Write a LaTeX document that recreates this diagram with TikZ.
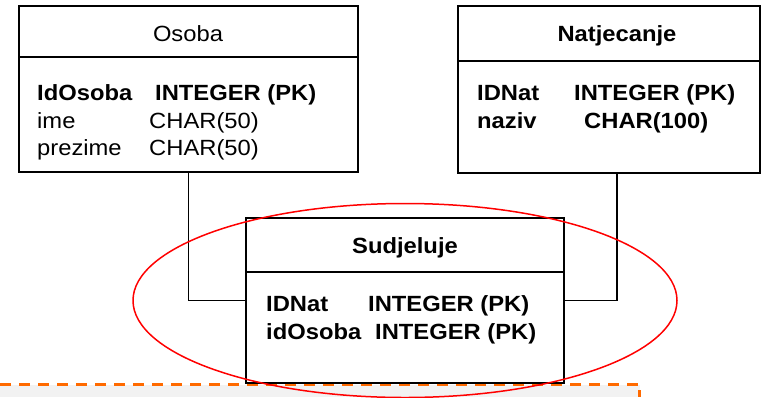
\documentclass[tikz,border=0pt]{standalone}
\usepackage{fontspec}
\setmainfont[FakeStretch=1.08]{Liberation Sans}
\definecolor{dashorange}{HTML}{FF6A00}
\definecolor{lightgray}{HTML}{F2F2F2}
\definecolor{ellred}{HTML}{FF0000}
\tikzset{
  entbox/.style={draw=black, line width=2pt, fill=white, rectangle, inner sep=0pt},
  conn/.style={draw=black, line width=1.6pt},
  divider/.style={draw=black, line width=1.7pt},
  txt/.style={anchor=base west, inner sep=0pt, font=\fontsize{22}{26}\selectfont},
  btxt/.style={txt, font=\fontsize{22}{26}\selectfont\bfseries},
  title/.style={anchor=base, inner sep=0pt, font=\fontsize{22}{26}\selectfont},
  btitle/.style={title, font=\fontsize{22}{26}\selectfont\bfseries},
}
\begin{document}
\begin{tikzpicture}[x=1pt,y=-1pt]
\useasboundingbox (0,0) rectangle (762,397);
% bottom band
\fill[lightgray] (0,385) rectangle (640,397);
\draw[dashorange, line width=3pt, dash pattern=on 11pt off 8pt] (0,384) -- (640,384);
\draw[dashorange, line width=3pt] (639,390) -- (639,397);

% boxes
\node[entbox, minimum width=339pt, minimum height=166pt] (osoba) at (188.5,89) {};
\node[entbox, minimum width=302pt, minimum height=167pt] (nat) at (609,89.5) {};
\node[entbox, minimum width=318pt, minimum height=165pt] (sud) at (405,300.5) {};

% dividers
\draw[divider] (osoba.west |- 0,57) -- (osoba.east |- 0,57);
\draw[divider] (nat.west |- 0,61) -- (nat.east |- 0,61);
\draw[divider] (sud.west |- 0,272) -- (sud.east |- 0,272);

% connectors
\coordinate (natdrop) at (617,0);
\draw[conn] (osoba.south) |- (sud.west);
\draw[conn] (nat.south -| natdrop) |- (sud.east);

% Osoba texts
\node[title] (tos) at (188,41) {Osoba};
\node[btxt] (os1a) at (37,100) {IdOsoba};
\node[btxt] (os1b) at (155,100) {INTEGER (PK)};
\node[txt] (os2a) at (37,128) {ime};
\node[txt] (os2b) at (149,128) {CHAR(50)};
\node[txt] (os3a) at (37,155) {prezime};
\node[txt] (os3b) at (149,155) {CHAR(50)};

% Natjecanje texts
\node[btitle] (tnat) at (617,41) {Natjecanje};
\node[btxt] (n1a) at (477,100) {IDNat};
\node[btxt] (n1b) at (574,100) {INTEGER (PK)};
\node[btxt] (n2a) at (477,128) {naziv};
\node[btxt] (n2b) at (584,128) {CHAR(100)};

% Sudjeluje texts
\node[btitle] (tsud) at (405,253) {Sudjeluje};
\node[btxt] (s1a) at (266,311) {IDNat};
\node[btxt] (s1b) at (368,311) {INTEGER (PK)};
\node[btxt] (s2a) at (266,339) {idOsoba};
\node[btxt] (s2b) at (375,339) {INTEGER (PK)};

% highlight ellipse
\draw[ellred, line width=1.5pt] (sud.center) ellipse [x radius=272pt, y radius=97pt];
\end{tikzpicture}
\end{document}
